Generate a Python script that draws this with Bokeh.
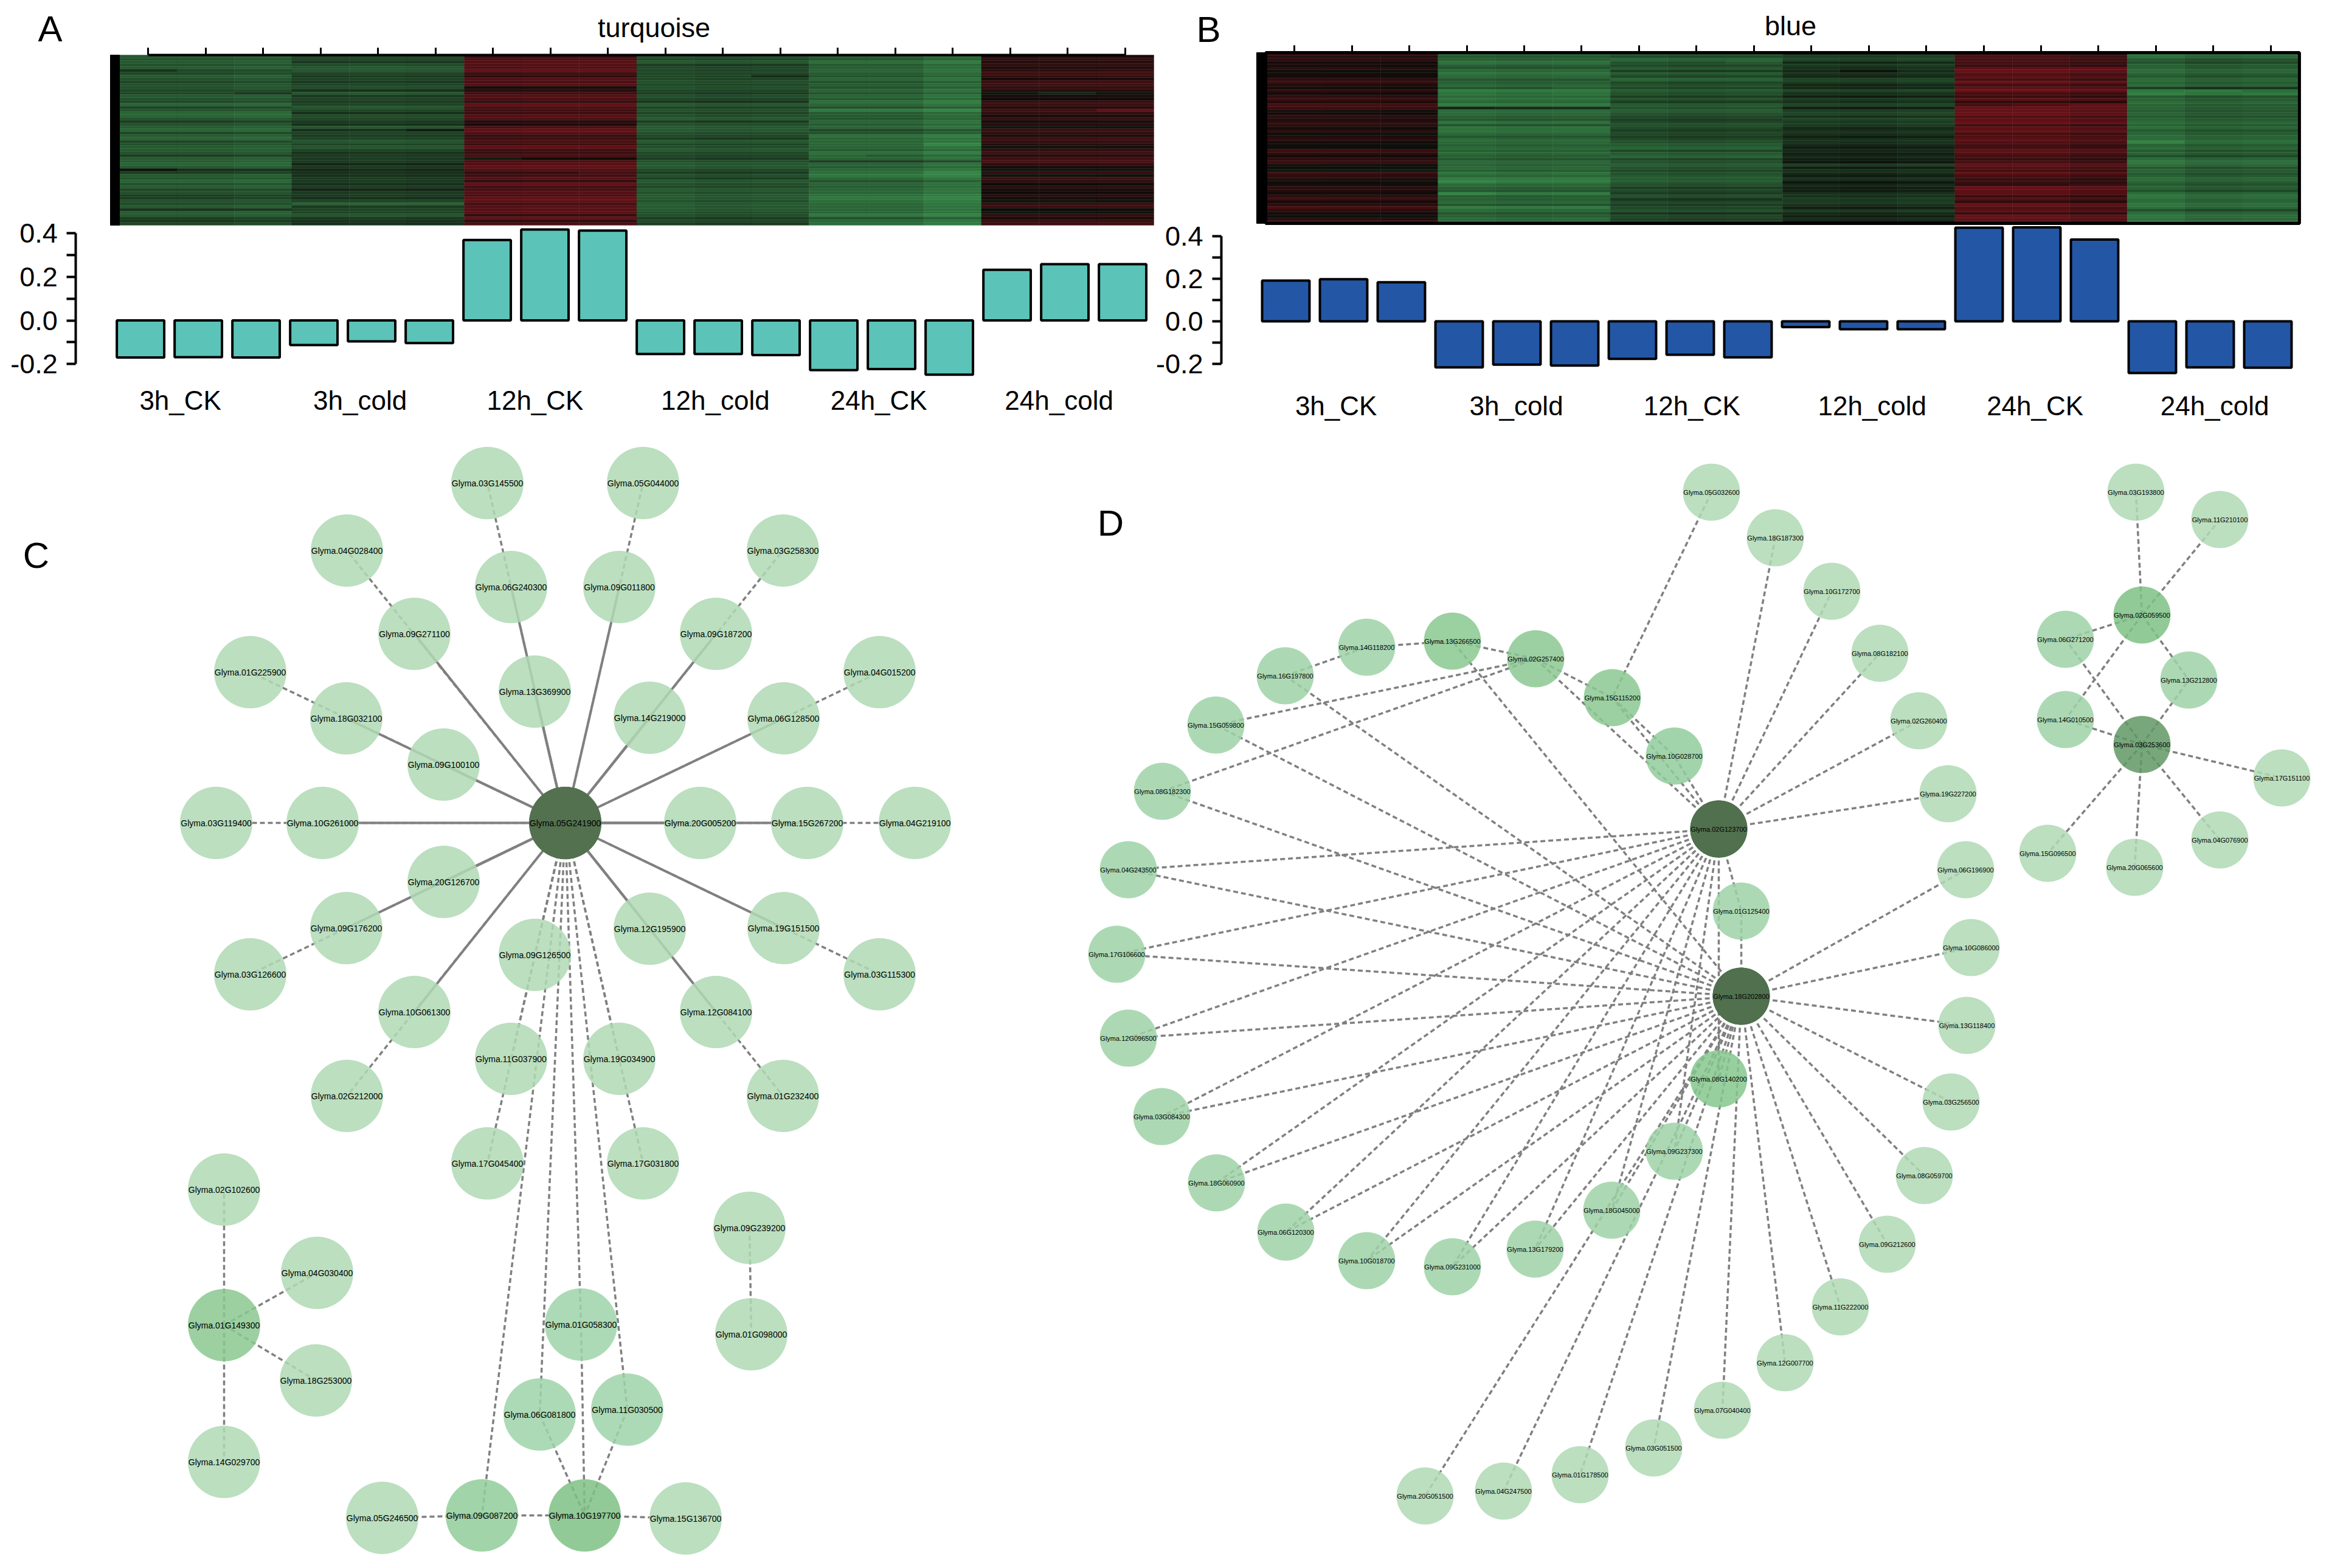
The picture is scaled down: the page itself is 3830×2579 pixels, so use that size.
from bokeh.embed import file_html
from bokeh.resources import INLINE
from bokeh.plotting import figure
from bokeh.models import FixedTicker, LinearAxis, Range1d
from bokeh.core.properties import value

FONT = "Liberation Sans"

# ---------- bars
groups = ["3h_CK", "3h_cold", "12h_CK", "12h_cold", "24h_CK", "24h_cold"]
bars_a = [-0.170, -0.169, -0.170, -0.113, -0.096, -0.104, 0.370, 0.418, 0.413,
          -0.154, -0.154, -0.159, -0.228, -0.223, -0.249, 0.233, 0.259, 0.259]
bars_b = [0.191, 0.197, 0.183, -0.216, -0.203, -0.207, -0.176, -0.157, -0.169,
          -0.027, -0.037, -0.037, 0.439, 0.440, 0.383, -0.242, -0.216, -0.217]
group_pos_a = [0.69, 3.80, 6.83, 9.95, 12.78, 15.90]
group_pos_b = [0.87, 3.99, 7.03, 10.15, 12.97, 16.08]

# ---------- heatmaps: column level, band offsets read per sample group, single-column streaks
heat_col_a = [-.57, -.57, -.61, -.53, -.55, -.53, .41, .43, .43, -.57, -.53, -.55, -.66, -.66, -.78, .17, .18, .19]
heat_col_b = [.15, .14, .12, -.70, -.66, -.68, -.58, -.54, -.56, -.39, -.36, -.40, .46, .46, .39, -.73, -.63, -.66]
bands_a = [
    [-1,0,-1,0,-1,1,1,-1,0,1,0,0,1,1,-1,0,1,-2,1,0,-2,-2,0,2,0,-1,-2,1,-1,-2,
     1,0,-1,-1,0,2,-1,-1,-2,-1,4,2,-1,0,-2,0,-1,1,0,2,2,0,1,-1,3,-1,-1,2,3,1],
    [1,1,2,0,-1,-1,1,2,1,2,1,0,3,-1,2,1,2,1,-1,1,3,0,1,2,3,-1,3,1,2,1,
     -1,1,-1,1,3,2,2,2,4,2,4,3,3,2,2,3,2,4,2,2,3,1,-2,2,1,1,-1,2,3,3],
    [-2,0,1,1,0,2,-1,-3,1,0,1,-4,-3,-1,1,0,-2,2,0,-1,-1,1,0,-3,-4,0,2,1,-2,-1,
     0,-1,2,-1,-2,0,-5,0,1,2,0,-2,-1,1,-2,2,-1,0,1,0,2,2,-1,1,1,1,-2,2,-3,0],
    [0,1,-1,2,1,1,1,1,1,0,1,0,1,2,0,1,3,-1,1,0,1,0,-1,2,0,-1,-1,0,1,2,
     -1,1,0,-1,1,1,2,0,-1,-1,1,2,0,2,-1,0,1,-1,0,-1,-1,0,-1,-1,-1,0,0,2,1,2],
    [0,1,-2,0,0,-1,0,1,-1,1,0,1,-1,1,-1,0,-2,-1,1,-3,0,0,1,-1,0,-1,2,1,-2,-1,
     -1,-1,-1,0,-2,0,-1,3,-1,0,-1,-2,-3,-1,1,-1,0,-1,-1,-2,-3,-2,-1,-1,-1,-1,-3,1,-1,-2],
    [-1,1,0,1,-1,1,2,1,-1,2,2,1,0,-3,-1,-2,1,2,0,2,1,-1,1,-1,0,-3,2,1,-1,2,
     1,0,-3,1,2,0,2,3,1,-1,-3,1,-3,2,1,-2,0,-1,-2,0,-1,-3,1,2,-2,-3,1,-1,1,2],
]
bands_b = [
    [2,0,1,-1,-1,1,-2,-1,-1,1,2,0,-1,1,-1,1,2,0,3,2,-1,-1,1,0,1,1,-1,1,-2,0,
     1,-1,-2,-1,2,1,-1,1,2,-1,-2,-3,2,1,0,-2,-1,1,0,-1,1,2,-1,1,3,1,-1,-2,0,3],
    [0,1,0,-2,0,1,-1,-2,-1,1,0,-1,1,-3,-2,-1,-2,-1,-3,5,-1,-1,0,1,-2,1,-2,-2,-1,1,
     -1,-1,0,-1,0,-1,0,1,-1,0,-1,0,-2,-1,-3,-3,-1,0,1,-3,0,0,-1,1,-3,-1,1,0,-1,0],
    [0,1,-2,0,1,-1,2,-1,1,-2,1,0,1,-1,0,2,0,2,-1,0,-1,0,1,2,1,0,1,2,1,2,
     1,0,-1,-2,1,-1,-2,1,0,-1,0,1,0,-1,-1,-1,0,2,1,2,0,3,1,2,1,0,3,1,2,2],
    [1,0,-1,2,0,1,2,1,2,-1,0,2,2,-1,1,3,0,1,-1,3,0,-1,1,-1,0,0,2,1,1,3,
     1,1,2,3,2,3,2,3,4,0,3,1,2,3,1,4,2,3,3,1,1,0,0,1,3,0,2,3,2,4],
    [-2,-1,-1,-1,-2,1,2,0,1,-1,2,-1,1,2,-1,-2,1,-3,-1,2,1,2,0,1,2,-1,1,2,-1,0,
     1,0,-1,-1,1,0,-1,-2,-1,1,0,-1,1,-1,-2,-2,-3,2,1,1,-2,0,-3,2,0,1,-2,2,1,0],
    [-1,-1,1,2,0,0,-1,0,1,-1,0,-1,4,-2,-3,1,0,-1,0,0,1,0,1,0,-1,0,-1,1,0,-1,
     -1,-2,0,-1,1,0,2,-1,-2,-1,1,0,1,0,-1,0,1,0,2,-1,-2,-1,-1,-2,-1,2,-1,-2,-1,-2],
]
streak_col_a = [0, 2, 5, 11, 16, 17, 14, 8, 0, 14, 6, 12]
streak_row_a = [5, 13, 26, 7, 13, 19, 31, 41, 40, 41, 36, 35]
streak_val_a = [.18, .18, .15, .22, -.15, .2, -.2, .12, .22, -.15, -.15, -.08]
streak_col_b = [14, 3, 14, 16, 3, 3, 14, 10, 5, 13, 8, 15]
streak_row_b = [18, 19, 5, 13, 49, 45, 46, 6, 12, 18, 3, 31]
streak_val_b = [.25, .1, .12, -.12, -.15, -.15, .15, .15, -.08, .08, -.08, -.12]
sample_ticks = [i + 0.5 for i in range(18)]

# ---------- network C
c_names = ["03G145500","05G044000","04G028400","06G240300","09G011800","03G258300","09G271100","09G187200",
           "01G225900","04G015200","13G369900","14G219000","18G032100","06G128500","09G100100","05G241900",
           "03G119400","10G261000","20G005200","15G267200","04G219100","20G126700","09G176200","19G151500",
           "12G195900","09G126500","03G126600","03G115300","10G061300","12G084100","11G037900","19G034900",
           "02G212000","01G232400","17G045400","17G031800","02G102600","04G030400","01G149300","18G253000",
           "14G029700","09G239200","01G098000","01G058300","06G081800","11G030500","05G246500","09G087200",
           "10G197700","15G136700"]
c_x = [801,1057,570,840,1018,1287,681,1177,411,1446,879,1068,569,1288,729,929,355,530,1151,1327,1504,729,569,1288,
       1068,879,411,1446,681,1177,840,1018,570,1287,801,1057,368,521,368,519,368,1232,1235,955,887,1031,628,792,961,1127]
c_y = [794,794,905,965,965,905,1042,1042,1105,1105,1137,1180,1181,1181,1257,1353,1353,1353,1353,1353,1353,1450,1526,
       1526,1527,1570,1602,1602,1664,1664,1741,1741,1802,1802,1913,1913,1956,2093,2179,2270,2404,2019,2194,2178,2326,
       2318,2496,2492,2492,2497]
c_shade = {"05G241900":"#53714F","01G149300":"#9DD1A2","10G197700":"#93CB98","09G087200":"#A2D4A9",
           "01G058300":"#AEDAB6","06G081800":"#AEDAB6","11G030500":"#AEDAB6"}
c_hub = "05G241900"
c_solid = ["13G369900","06G240300","09G011800","14G219000","09G187200","09G271100","18G032100","09G100100",
           "06G128500","10G261000","20G005200","15G267200","20G126700","09G176200","10G061300","19G151500",
           "12G195900","12G084100"]
c_dashed_hub = ["03G145500","05G044000","04G028400","03G258300","01G225900","04G015200","03G119400","04G219100",
                "03G126600","03G115300","02G212000","01G232400","17G045400","17G031800","11G037900","09G126500",
                "19G034900","09G087200","06G081800","01G058300","11G030500"]
c_links = [("01G149300","02G102600"),("01G149300","04G030400"),("01G149300","18G253000"),("01G149300","14G029700"),
           ("09G239200","01G098000"),("01G058300","10G197700"),("06G081800","10G197700"),("11G030500","10G197700"),
           ("09G087200","10G197700"),("05G246500","09G087200"),("10G197700","15G136700")]

# ---------- network D
d_names = ["05G032600","18G187300","10G172700","08G182100","02G260400","19G227200","06G196900","10G086000","13G118400",
           "14G118200","13G266500","02G257400","16G197800","15G115200","15G059800","10G028700","08G182300","02G123700",
           "04G243500","01G125400","17G106600","18G202800","12G096500","03G084300","18G060900","06G120300","10G018700",
           "09G231000","13G179200","18G045000","09G237300","08G140200","03G256500","08G059700","09G212600","11G222000",
           "12G007700","07G040400","03G051500","01G178500","04G247500","20G051500","03G193800","11G210100","02G059500",
           "06G271200","13G212800","14G010500","03G253600","17G151100","04G076900","15G096500","20G065600"]
d_x = [2814,2919,3012,3091,3155,3203,3232,3241,3234,2247,2388,2525,2113,2651,1999,2753,1911,2826,1855,2863,1836,2863,1855,
       1910,2000,2114,2247,2388,2524,2650,2753,2826,3208,3164,3103,3026,2935,2832,2719,2598,2472,2343,3512,3650,3522,3396,
       3599,3396,3522,3752,3650,3367,3510]
d_y = [809,884,972,1074,1185,1305,1430,1558,1686,1064,1054,1083,1111,1147,1192,1243,1301,1363,1430,1498,1569,1638,1707,
       1836,1945,2026,2073,2083,2054,1990,1893,1774,1812,1933,2046,2149,2241,2319,2381,2425,2452,2460,809,854,1011,1051,
       1118,1183,1224,1279,1381,1403,1426]
d_shade = {"02G123700":"#50704E","18G202800":"#50704E","13G266500":"#9BD1A1","02G257400":"#9DD1A3","15G115200":"#9DD1A3",
           "10G028700":"#A3D5AB","08G140200":"#98D09F","02G059500":"#92CB98","03G253600":"#78A87C"}
d_mid = ["14G118200","16G197800","15G059800","08G182300","04G243500","17G106600","12G096500","03G084300","18G060900",
         "06G120300","10G018700","09G231000","13G179200","18G045000","09G237300","01G125400","06G271200","14G010500",
         "13G212800"]
d_h1 = ["18G187300","10G172700","08G182100","02G260400","19G227200","10G028700","15G115200","02G257400"]
d_h2 = ["06G196900","10G086000","13G118400","03G256500","08G059700","09G212600","11G222000","12G007700","07G040400",
        "03G051500","01G178500","04G247500","20G051500","13G266500","15G059800","16G197800","08G182300"]
d_both = ["04G243500","17G106600","12G096500","03G084300","18G060900","06G120300","10G018700","09G231000","13G179200",
          "18G045000","09G237300","08G140200","01G125400"]
d_links = [("05G032600","15G115200"),("15G059800","02G257400"),("08G182300","02G257400"),("16G197800","14G118200"),
           ("14G118200","13G266500"),("13G266500","02G257400"),("02G257400","15G115200"),("15G115200","10G028700"),
           ("02G059500","03G193800"),("02G059500","11G210100"),("02G059500","06G271200"),("02G059500","13G212800"),
           ("02G059500","14G010500"),("03G253600","06G271200"),("03G253600","14G010500"),("03G253600","13G212800"),
           ("03G253600","17G151100"),("03G253600","04G076900"),("03G253600","15G096500"),("03G253600","20G065600")]

PALE = "#BBDFC0"
MID = "#ADD9B5"
TURQ = "#5BC3B8"
BLUE = "#2357A6"
EDGE = "#808080"
HUBS = ("#53714F", "#50704E")

# The whole page is one plot frame; every panel has its own pair of ranges.
FX0, FX1, FY0, FY1 = 0, 3814, 0, 2563
p = figure(width=FX1 - FX0, height=FY1 - FY0, output_backend="svg", toolbar_location=None,
           x_range=Range1d(FX0, FX1), y_range=Range1d(FY1, FY0), min_border=0,
           x_axis_type=None, y_axis_type=None)
p.grid.visible = False
p.outline_line_color = None


def add_x(name, zero, ppu):
    p.extra_x_ranges[name] = Range1d((FX0 - zero) / ppu, (FX1 - zero) / ppu)


def add_y_up(name, zero, ppu):
    p.extra_y_ranges[name] = Range1d((zero - FY1) / ppu, (zero - FY0) / ppu)


def add_y_down(name, zero, ppu):
    p.extra_y_ranges[name] = Range1d((FY1 - zero) / ppu, (FY0 - zero) / ppu)


def heat_color(v):
    v = max(-1.0, min(1.0, v))
    t = abs(v)
    if v < 0:
        rgb = (12 + t * 40, 14 + t * 118, 10 + t * 60)
    else:
        rgb = (12 + t * 150, 12 + t * 8, 10 + t * 22)
    return "#%02x%02x%02x" % tuple(int(c) for c in rgb)


def see_through(hex_color, alpha=0.85):
    c = [int(hex_color[i:i + 2], 16) for i in (1, 3, 5)]
    return "#%02x%02x%02x" % tuple(max(0, int((k - (1 - alpha) * 255) / alpha)) for k in c)


def heat_panel(tag, col_means, bands, s_col, s_row, s_val, px_left, px_col, px_top, px_row, bar_px, axis_y, axis_w):
    rows = len(bands[0])
    add_x(tag, px_left, px_col)
    add_y_down(tag, px_top, px_row)
    extra = {(c, r): v for c, r, v in zip(s_col, s_row, s_val)}
    le, ri, to, bo, cols = [], [], [], [], []
    for c, m in enumerate(col_means):
        for r, off in enumerate(bands[c // 3]):
            le.append(c); ri.append(c + 1); to.append(r); bo.append(r + 1)
            cols.append(heat_color(m + off * 0.08 + extra.get((c, r), 0)))
    p.quad(left=le, right=ri, top=to, bottom=bo, fill_color=cols, line_color=cols, line_width=0.4,
           x_range_name=tag, y_range_name=tag)
    p.quad(left=[-bar_px / px_col], right=[0], top=[0], bottom=[rows], fill_color="black", line_color="black",
           line_width=1, x_range_name=tag, y_range_name=tag)
    ax = LinearAxis(x_range_name=tag, fixed_location=axis_y)
    ax.ticker = FixedTicker(ticks=sample_ticks, minor_ticks=[])
    ax.major_label_overrides = {t: "" for t in sample_ticks}
    ax.major_label_text_font_size = "1px"
    ax.major_label_standoff = 0
    ax.major_tick_in = 0
    ax.major_tick_out = 12
    ax.major_tick_line_width = 3
    ax.major_tick_line_color = "black"
    ax.axis_line_width = axis_w
    ax.axis_line_color = "black"
    ax.bounds = (0.5, 17.5)
    p.add_layout(ax, "above")


def bar_panel(tag, vals, pos, color, zero_x, zero_y, ppu_y, axis_x, label_y, label_gap):
    add_x(tag, zero_x, 95)
    add_y_up(tag, zero_y, ppu_y)
    p.vbar(x=list(range(18)), top=vals, bottom=0, width=0.82, fill_color=color, line_color="black", line_width=4,
           x_range_name=tag, y_range_name=tag)
    ya = LinearAxis(y_range_name=tag, fixed_location=axis_x)
    ya.ticker = FixedTicker(ticks=[-0.2, 0.0, 0.2, 0.4], minor_ticks=[-0.1, 0.1, 0.3])
    ya.bounds = (-0.2, 0.4)
    ya.major_label_overrides = {-0.2: "-0.2", 0.0: "0.0", 0.2: "0.2", 0.4: "0.4"}
    ya.major_label_orientation = "horizontal"
    ya.major_label_text_font = FONT
    ya.major_label_text_font_size = "45px"
    ya.major_label_text_color = "black"
    ya.major_label_standoff = 15
    ya.major_tick_in = 0
    ya.major_tick_out = 15
    ya.minor_tick_in = 0
    ya.minor_tick_out = 15
    ya.major_tick_line_width = 4
    ya.minor_tick_line_width = 4
    ya.axis_line_width = 4
    ya.major_tick_line_color = "black"
    ya.minor_tick_line_color = "black"
    p.add_layout(ya, "left")
    xa = LinearAxis(x_range_name=tag, fixed_location=label_y)
    xa.ticker = FixedTicker(ticks=pos, minor_ticks=[])
    xa.major_label_overrides = dict(zip(pos, groups))
    xa.major_label_text_font = FONT
    xa.major_label_text_font_size = "44px"
    xa.major_label_text_color = "black"
    xa.major_label_standoff = label_gap
    xa.axis_line_color = None
    xa.major_tick_line_color = None
    xa.minor_tick_line_color = None
    p.add_layout(xa, "below")


def draw_net(names, xs, ys, shade, solid_pairs, dashed_pairs, radius, font_px):
    loc = {n: (x, y) for n, x, y in zip(names, xs, ys)}
    if solid_pairs:
        p.segment([loc[a][0] for a, b in solid_pairs], [loc[a][1] for a, b in solid_pairs],
                  [loc[b][0] for a, b in solid_pairs], [loc[b][1] for a, b in solid_pairs],
                  line_color=EDGE, line_width=4)
    p.segment([loc[a][0] for a, b in dashed_pairs], [loc[a][1] for a, b in dashed_pairs],
              [loc[b][0] for a, b in dashed_pairs], [loc[b][1] for a, b in dashed_pairs],
              line_color=EDGE, line_width=3.5, line_dash="8 5")
    fills = [see_through(shade.get(n, PALE)) for n in names]
    p.circle(xs, ys, radius=radius, fill_color=fills, fill_alpha=0.85, line_color=None)
    hubs = [n for n in names if shade.get(n) in HUBS]
    p.circle([loc[h][0] for h in hubs], [loc[h][1] for h in hubs], radius=radius,
             fill_color=[shade[h] for h in hubs], line_color=None)
    p.text(xs, ys, text=["Glyma." + n for n in names], text_font=value(FONT), text_font_size=f"{font_px}px",
           text_align="center", text_baseline="middle", text_color="#000000")


heat_panel("heatA", heat_col_a, bands_a, streak_col_a, streak_row_a, streak_val_a, 196, 94.5, 90, 280 / 60, 15, 90, 4)
heat_panel("heatB", heat_col_b, bands_b, streak_col_b, streak_row_b, streak_val_b, 2081, 94.44, 86, 281 / 60, 15, 86, 5)
p.quad(left=[0], right=[18], top=[0], bottom=[60], fill_color=None, line_color="black", line_width=5,
       x_range_name="heatB", y_range_name="heatB")

bar_panel("barA", bars_a, group_pos_a, TURQ, 230.6, 526.6, 358, 124.4, 625, 2)
bar_panel("barB", bars_b, group_pos_b, BLUE, 2114, 528, 351, 2008, 625, 11)

draw_net(c_names, c_x, c_y, c_shade, [(c_hub, n) for n in c_solid], [(c_hub, n) for n in c_dashed_hub] + c_links, 59.5, 14)
d_shade_all = dict(d_shade)
for n in d_mid:
    d_shade_all[n] = MID
d_pairs = [("02G123700", n) for n in d_h1 + d_both] + [("18G202800", n) for n in d_h2 + d_both] + d_links
draw_net(d_names, d_x, d_y, d_shade_all, [], d_pairs, 47, 11)

p.text([1075, 2944], [45, 42], text=["turquoise", "blue"], text_font=value(FONT), text_font_size="45px",
       text_align="center", text_baseline="middle", text_color="black")
p.text([82, 1987, 59, 1826], [47, 48, 913, 860], text=["A", "B", "C", "D"], text_font=value(FONT),
       text_font_size="60px", text_align="center", text_baseline="middle", text_color="black")

open("out.html", "w").write(file_html(p, INLINE))
